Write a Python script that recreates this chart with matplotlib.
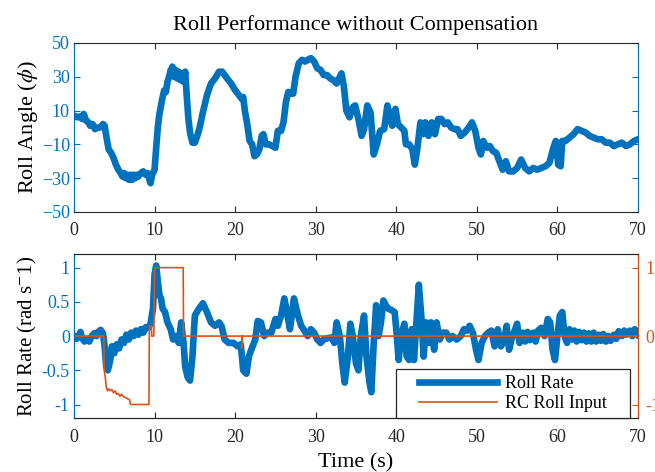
import matplotlib
matplotlib.use("Agg")
import matplotlib.pyplot as plt
from matplotlib.lines import Line2D
from matplotlib.patches import Rectangle

plt.rcParams['font.family'] = ['Liberation Serif', 'DejaVu Serif']
plt.rcParams['mathtext.fontset'] = 'stix'

BLUE = '#0072BD'
ORANGE = '#D95319'
DARK = '#262626'

angle_t = [0.0,0.4,0.8,1.0,1.2,1.5,1.8,2.0,2.3,2.6,3.0,3.3,3.6,3.8,4.0,4.3,4.6,4.9,5.2,5.5,5.8,6.0,6.2,6.4,6.6,6.8,7.0,7.2,7.4,7.6,7.8,8.0,8.3,8.6,8.9,9.1,9.3,9.5,9.7,10.0,
           10.2,10.4,10.6,10.8,11.0,11.2,11.4,11.6,11.8,12.0,12.1,12.2,12.4,12.6,12.8,13.0,13.2,13.4,13.6,13.8,14.0,14.2,14.4,14.7,15.0,15.3,15.6,16.0,16.5,17.0,
           17.5,18.0,18.4,19.0,19.5,20.0,20.5,20.8,21.0,21.2,21.5,21.8,22.1,22.4,22.7,23.0,23.3,23.5,23.8,24.2,24.6,25.0,25.3,25.7,26.0,26.3,26.6,26.9,27.2,27.5,
           27.9,28.3,28.7,29.0,29.4,29.8,30.2,30.6,31.0,31.4,31.8,32.2,32.6,33.0,33.2,33.5,33.8,34.2,34.6,34.9,35.3,35.7,36.0,36.4,36.8,37.2,37.6,38.0,38.5,38.9,
           39.2,39.5,39.9,40.2,40.6,41.0,41.2,41.6,42.0,42.3,42.6,43.0,43.3,43.6,44.0,44.4,44.8,45.2,45.6,46.0,46.4,46.8,47.2,47.6,48.0,48.5,49.0,49.4,49.8,50.2,
           50.5,50.8,51.2,51.6,52.0,52.4,52.8,53.2,53.6,54.0,54.5,55.0,55.5,56.0,56.5,57.0,57.5,58.0,58.5,59.0,59.5,59.8,60.1,60.4,60.6,61.0,61.5,62.0,62.5,63.0,
           63.5,64.0,64.5,65.0,65.5,66.0,66.5,67.0,67.5,68.0,68.5,69.0,69.5,70.0]
angle_v = [7,6,6.5,5,8,4,3,1,2,-1,0,0,2,1,-5,-13,-15,-18,-22,-25,-27,-29,-27,-30,-28,-31,-28,-31,-28,-30,-28,-29,-27,-26,-28,-27,-30,-33,-28,-25,
           -12,0,8,13,18,22,21,27,30,34,31,36,30,34,29,33,28,32,27,33,18,5,-3,-9,-9,-5,0,9,19,26,
           29,33,33,29,26,22,19,17,18,10,2,-8,-10,-17,-16,-13,-5,-4,-10,-10,-11,-12,-2,-2,3,15,21,20,20,30,
           38,40,39,40,41,39,35,34,31,31,29,28,26,30,32,24,10,6,12,13,5,-5,-1,13,9,-16,-10,-2,-1,13,
           7,1,11,2,0,-2,-10,-10,-13,-22,-13,3,-4,3,-5,3,-4,5,5,2,3,0,-1,-1,-5,-3,0,3,-2,-12,
           -16,-8,-12,-11,-14,-15,-20,-25,-20,-26,-26,-24,-19,-24,-26,-24,-25,-24,-23,-21,-12,-8,-22,-23,-8,-8,-6,-4,-1,-2,
           -3,-5,-6,-7,-7,-9,-9,-11,-10,-9,-11,-10,-8,-7]

rate_t = [0.0,0.3,0.6,0.8,1.0,1.3,1.6,1.9,2.2,2.5,2.8,3.0,3.3,3.6,3.8,4.0,4.2,4.5,4.7,5.0,5.3,5.6,5.9,6.2,6.5,6.8,7.1,7.4,7.7,8.0,8.3,8.6,8.9,9.2,9.5,9.8,
          10.0,10.2,10.4,10.6,10.8,11.0,11.3,11.6,12.0,12.3,12.6,13.0,13.3,13.6,13.8,14.1,14.4,14.7,15.0,15.5,16.0,16.5,17.0,17.5,18.0,18.3,18.7,19.2,19.8,
          20.3,20.7,21.0,21.4,21.7,22.0,22.5,22.8,23.2,23.6,24.0,24.5,25.0,25.3,25.7,26.1,26.5,26.8,27.3,27.8,28.2,28.6,29.0,29.4,29.8,30.2,30.6,31.0,31.5,32.0,
          32.3,32.6,33.0,33.3,33.6,34.0,34.3,34.6,35.0,35.3,35.6,36.0,36.3,36.7,36.9,37.2,37.5,37.8,38.1,38.4,38.7,39.0,39.4,39.8,40.0,40.3,40.6,41.0,41.3,41.6,
          41.9,42.2,42.5,42.8,43.1,43.4,43.7,44.0,44.3,44.7,45.0,45.4,45.8,46.2,46.6,47.0,47.5,48.0,48.4,48.8,49.1,49.5,49.9,50.2,50.6,51.0,51.4,51.8,52.2,52.6,
          53.0,53.4,53.7,54.0,54.3,54.7,55.0,55.3,55.7,56.0,56.3,56.6,57.0,57.3,57.6,58.0,58.4,58.8,59.1,59.4,59.7,60.0,60.3,60.6,60.9,61.2,61.5,61.8,62.1,62.4,
          62.7,63.0,63.3,63.6,63.9,64.2,64.5,64.8,65.1,65.4,65.7,66.0,66.3,66.6,67.0,67.3,67.6,68.0,68.3,68.6,69.0,69.3,69.6,70.0]
rate_v = [0.0,-0.04,0.0,0.06,-0.03,-0.08,-0.04,-0.08,0.0,0.04,0.0,0.06,0.09,0.04,-0.15,-0.45,-0.5,-0.35,-0.15,-0.25,-0.12,-0.18,-0.05,-0.1,0.02,-0.05,0.05,0.0,0.08,0.02,0.1,0.05,0.13,0.12,0.18,0.4,
          0.9,1.03,0.8,0.6,0.55,0.4,0.35,0.2,0.1,-0.05,0.0,-0.1,0.2,-0.1,-0.45,-0.6,-0.65,-0.3,0.3,0.4,0.48,0.35,0.2,0.15,0.2,0.15,-0.05,-0.1,-0.1,
          -0.15,-0.12,-0.5,-0.55,-0.3,-0.2,-0.05,0.22,0.2,0.0,0.05,0.05,0.25,0.15,0.3,0.55,0.3,0.1,0.55,0.3,0.15,0.08,0.0,0.1,0.05,-0.05,-0.1,-0.05,-0.03,-0.02,
          -0.1,0.2,0.0,-0.4,-0.68,-0.3,0.18,0.0,-0.4,-0.5,0.0,0.3,-0.3,-0.7,-0.82,-0.1,0.45,0.0,0.2,0.52,0.45,0.4,0.38,0.35,0.1,-0.35,0.0,0.18,-0.3,-0.35,
          0.1,-0.35,0.2,0.75,0.3,-0.3,0.2,-0.1,0.2,-0.2,0.2,-0.05,0.05,0.05,-0.05,0.0,-0.05,0.0,0.1,0.08,0.15,0.05,-0.2,-0.35,-0.1,0.0,0.05,0.08,-0.15,0.1,
          -0.15,-0.05,0.15,-0.2,-0.05,0.08,0.18,-0.1,0.05,-0.08,0.06,-0.06,0.05,-0.08,0.08,0.12,0.0,0.25,0.2,-0.2,-0.35,0.0,0.3,0.35,0.0,-0.1,0.1,-0.05,0.08,-0.08,
          0.06,-0.06,0.05,-0.08,0.04,-0.08,0.05,-0.08,0.02,-0.07,0.03,-0.08,0.0,-0.07,0.02,-0.04,0.07,0.0,0.08,0.02,0.08,0.0,0.1,0.02]

rc_t = [0.0,3.7,3.75,3.9,4.0,4.15,4.3,4.5,4.7,4.9,5.1,5.3,5.5,5.7,5.9,6.1,6.4,6.7,6.9,7.0,9.3,9.35,9.6,9.65,9.9,10.0,13.55,13.6,20.85,20.87,20.9,70.0]
rc_v = [0.0,0.0,-0.5,-0.62,-0.75,-0.8,-0.77,-0.8,-0.78,-0.83,-0.8,-0.85,-0.84,-0.88,-0.85,-0.88,-0.9,-0.92,-0.93,-1.0,-1.0,0.15,0.15,0.0,0.0,1.0,1.0,0.0,0.0,-0.18,0.0,0.0]

x_ticks = [0, 10, 20, 30, 40, 50, 60, 70]
angle_ticks = [-50, -30, -10, 10, 30, 50]
rate_ticks = [-1, -0.5, 0, 0.5, 1]
rate_ticklabels = ['-1', '-0.5', '0', '0.5', '1']
rc_ticks = [-1, 0, 1]
legend_labels = ['Roll Rate', 'RC Roll Input']

fig = plt.figure(figsize=(6.55, 4.72), dpi=100)
ax1 = fig.add_axes([0.113, 0.551, 0.861, 0.358])
ax3 = fig.add_axes([0.113, 0.114, 0.861, 0.348])

TS = 13
LW = 4.8
# top
ax1.plot(angle_t, angle_v, color=BLUE, lw=LW, solid_joinstyle='round')
ax1.set_xlim(0, 70)
ax1.set_ylim(-50, 50)
ax1.set_xticks(x_ticks)
ax1.set_yticks(angle_ticks)
ax1.set_title('Roll Performance without Compensation', fontsize=16, pad=9)
ax1.set_ylabel(r'Roll Angle ($\phi$)', fontsize=16, labelpad=1)
ax1.tick_params(axis='x', direction='in', top=True, labelsize=TS, colors=DARK, length=4, pad=7)
ax1.tick_params(axis='y', direction='in', right=True, labelsize=TS, colors=BLUE, length=4, pad=3)
for s in ['left', 'right']:
    ax1.spines[s].set_color(BLUE)
for s in ['top', 'bottom']:
    ax1.spines[s].set_color(DARK)

# bottom
ax3.plot(rate_t, rate_v, color=BLUE, lw=LW, solid_joinstyle='round')
ax3.set_xlim(0, 70)
ax3.set_ylim(-1.2, 1.2)
ax3.set_xticks(x_ticks)
ax3.set_yticks(rate_ticks)
ax3.set_yticklabels(rate_ticklabels)
ax3.set_xlabel('Time (s)', fontsize=16, labelpad=5)
ax3.set_ylabel(r'Roll Rate (rad s$^{-}$1)', fontsize=15, labelpad=2)
ax3.tick_params(axis='x', direction='in', top=True, labelsize=TS, colors=DARK, length=4, pad=8)
ax3.tick_params(axis='y', direction='in', right=True, labelsize=TS, colors=BLUE, length=4, pad=3)
ax3.spines['left'].set_color(BLUE)
for s in ['top', 'bottom']:
    ax3.spines[s].set_color(DARK)

ax4 = ax3.twinx()
ax4.plot(rc_t, rc_v, color=ORANGE, lw=1.2)
ax4.set_ylim(-1.2, 1.2)
ax4.set_yticks(rc_ticks)
ax4.set_yticklabels(['-1', '0', '1'])
ax4.tick_params(axis='y', direction='in', labelsize=TS, colors=ORANGE, length=4, pad=5)
ax4.spines['right'].set_color(ORANGE)
ax4.spines['left'].set_color(BLUE)
for s in ['top', 'bottom']:
    ax4.spines[s].set_color(DARK)

# legend box
box = Rectangle((0.571, 0.0), 0.415, 0.30, transform=ax4.transAxes, facecolor='white',
                edgecolor=DARK, linewidth=0.9, zorder=5, clip_on=False)
ax4.add_patch(box)
handles = [Line2D([], [], color=BLUE, lw=LW), Line2D([], [], color=ORANGE, lw=1.2)]
leg = ax4.legend(handles, legend_labels, loc='center',
                 bbox_to_anchor=(0.571 + 0.415 / 2, 0.15), frameon=False,
                 fontsize=13, handlelength=4.3, borderpad=0, labelspacing=0.15,
                 handletextpad=0.45)
leg.set_zorder(6)

fig.savefig('out.png', dpi=100)
